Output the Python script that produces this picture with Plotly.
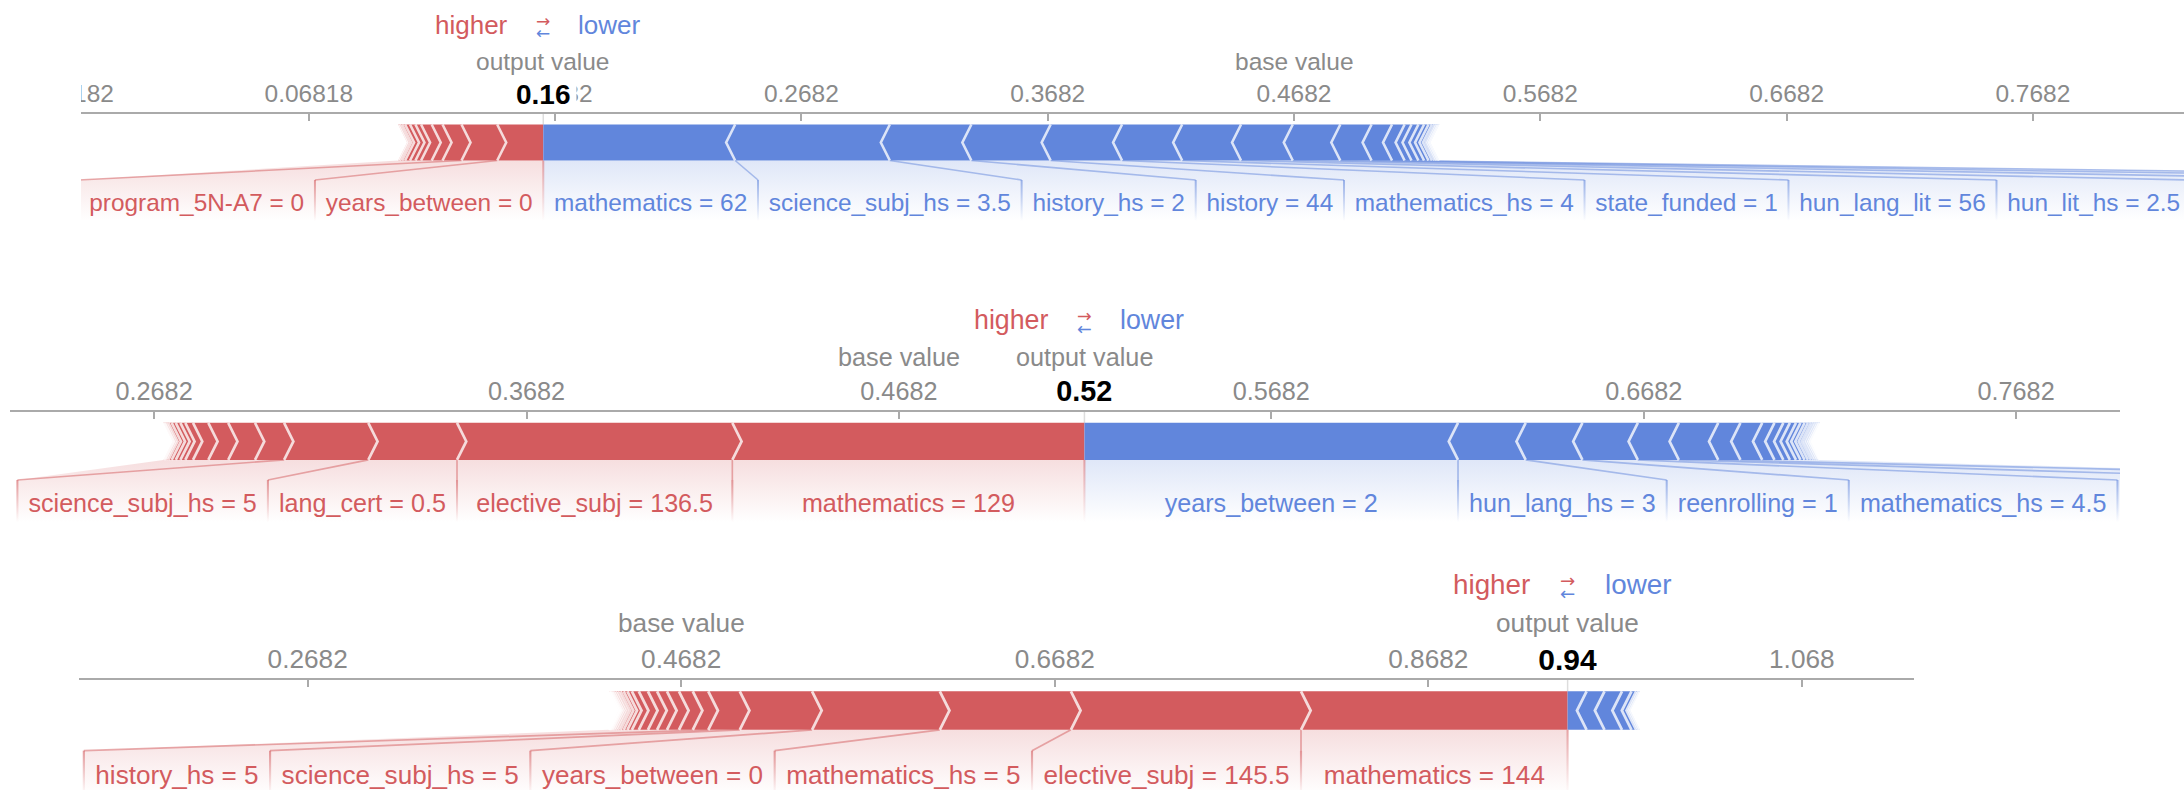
import plotly.graph_objects as go

# Expected model output (base value) shared by the three explanations
BASE_VALUE = 0.46818

# ---- explanation 1 -------------------------------------------------------
p1_pos_labels = ["years_between = 0", "program_5N-A7 = 0"]
p1_pos_effects = [0.0187, 0.0145, 0.0077, 0.0044, 0.0043, 0.0023, 0.0022, 0.0020,
                  0.0012, 0.0010, 0.0007]
p1_neg_labels = ["mathematics = 62", "science_subj_hs = 3.5", "history_hs = 2",
                 "history = 44", "mathematics_hs = 4", "state_funded = 1",
                 "hun_lang_lit = 56", "hun_lit_hs = 2.5"]
p1_neg_effects = [0.0779, 0.0628, 0.0331, 0.0322, 0.0290, 0.0244, 0.0239, 0.0210,
                  0.0193, 0.0127, 0.0083, 0.0051, 0.0028, 0.0028, 0.0023, 0.0018,
                  0.0014, 0.0011, 0.0008, 0.0006, 0.0005]

# ---- explanation 2 -------------------------------------------------------
p2_pos_labels = ["mathematics = 129", "elective_subj = 136.5", "lang_cert = 0.5",
                 "science_subj_hs = 5"]
p2_pos_effects = [0.09455, 0.07393, 0.02382, 0.02261, 0.00781, 0.00720, 0.00534,
                  0.00411, 0.00207, 0.00132, 0.00124, 0.0011, 0.0009, 0.0006,
                  0.0004, 0.0003]
p2_neg_labels = ["years_between = 2", "hun_lang_hs = 3", "reenrolling = 1",
                 "mathematics_hs = 4.5"]
p2_neg_effects = [0.10032, 0.01818, 0.01523, 0.01488, 0.01101, 0.01058, 0.00596,
                  0.00585, 0.00328, 0.00239, 0.00175, 0.00164, 0.00121, 0.0011,
                  0.0009, 0.0008, 0.0007, 0.0006, 0.0005, 0.0004, 0.0002]

# ---- explanation 3 -------------------------------------------------------
p3_pos_labels = ["mathematics = 144", "elective_subj = 145.5", "mathematics_hs = 5",
                 "years_between = 0", "science_subj_hs = 5", "history_hs = 5"]
p3_pos_effects = [0.14274, 0.1232, 0.0702, 0.0684, 0.0387, 0.01687, 0.0083, 0.0074,
                  0.0064, 0.0053, 0.0049, 0.0049, 0.0037, 0.0024, 0.0020, 0.0017,
                  0.0014, 0.0012, 0.0010, 0.0008, 0.0006, 0.0005, 0.0004, 0.0003]
p3_neg_labels = []
p3_neg_effects = [0.01017, 0.00958, 0.00937, 0.00509, 0.0025, 0.0012, 0.0008]

PANELS = [
    dict(pos=p1_pos_effects, pos_labels=p1_pos_labels, neg=p1_neg_effects,
         neg_labels=p1_neg_labels),
    dict(pos=p2_pos_effects, pos_labels=p2_pos_labels, neg=p2_neg_effects,
         neg_labels=p2_neg_labels),
    dict(pos=p3_pos_effects, pos_labels=p3_pos_labels, neg=p3_neg_effects,
         neg_labels=p3_neg_labels),
]

# ---- page layout (pixels) ------------------------------------------------
W, H = 2184, 790
LAYOUT = [
    dict(axis_y=113, top=0, bottom=240, left=0, right=2184, base_px=1294.0,
         ppu=2463.0, step=0.1, s=1.0, clip_left=81, more_pos=0, more_neg=3),
    dict(axis_y=411, top=240, bottom=545, left=10, right=2120, base_px=898.9,
         ppu=3724.0, step=0.1, s=1.03, clip_left=None, more_pos=0, more_neg=2),
    dict(axis_y=679, top=545, bottom=790, left=79, right=1914, base_px=681.2,
         ppu=1867.7, step=0.2, s=1.07, clip_left=None, more_pos=0, more_neg=0),
]

RED = "#D35B5E"
BLUE = "#6186DC"
GREY = "#8a8a8a"
AXIS_COLOR = "#aaaaaa"
FONT = "Liberation Sans, Arial, sans-serif"

ARIAL = {c: 556 for c in "abdeghnopqu0123456789_"}
ARIAL.update({"c": 500, "k": 500, "s": 500, "v": 500, "x": 500, "y": 500, "z": 500,
              "f": 278, "t": 278, "i": 222, "j": 222, "l": 222, "m": 833, "r": 333,
              "w": 722, "A": 667, "N": 722, " ": 278, ".": 278, "=": 584, "-": 333})


def text_width(txt, size, bold=False):
    return sum(ARIAL.get(ch, 556) for ch in txt) / 1000.0 * size


def rgba(hex_color, a):
    h = hex_color.lstrip("#")
    r, g, b = int(h[0:2], 16), int(h[2:4], 16), int(h[4:6], 16)
    return f"rgba({r},{g},{b},{a})"


fig = go.Figure()
annotations = []
shapes = []


def add_poly(xs, ys, xa, ya, **kw):
    fig.add_trace(go.Scatter(x=xs, y=ys, xaxis=xa, yaxis=ya, mode="lines",
                             line=dict(width=0), hoverinfo="skip", showlegend=False,
                             **kw))


for k, (data, lay) in enumerate(zip(PANELS, LAYOUT)):
    xa = "x" if k == 0 else f"x{k + 1}"
    ya = "y" if k == 0 else f"y{k + 1}"
    s, ppu = lay["s"], lay["ppu"]
    pos, neg = data["pos"], data["neg"]
    out = BASE_VALUE + sum(pos) - sum(neg)

    # vertical geometry, pixels above the axis line
    bar_top, bar_mid, bar_bot = -11.5 * s, -29.5 * s, -47.5 * s
    link_top, text_y, lab_bot = -67 * s, -92 * s, -108 * s
    chev = 9 * s / ppu
    label_fs = 24.4 * s
    pad = 21.5 * s

    # segment extents in value units
    red_segs, x1 = [], out
    for e in pos:
        red_segs.append((x1 - e, x1))
        x1 -= e
    blue_segs, x0 = [], out
    for e in neg:
        blue_segs.append((x0, x0 + e))
        x0 += e
    red_end, blue_end = x1, x0

    # ---- label boxes
    def place(segs, names, extra, sign):
        boxes, limit = [], out
        n = min(len(names) + extra, len(segs))
        for i in range(n):
            name = names[i] if i < len(names) else None
            wpx = (text_width(name, label_fs) if name else 200 * s) + pad
            w = wpx / ppu
            a, b = segs[i]
            if sign > 0:
                right = min(b, limit)
                left = min(a, right - w)
                limit = left
            else:
                left = max(a, limit)
                right = max(b, left + w)
                limit = right
            boxes.append((left, right, name))
        return boxes

    red_boxes = place(red_segs, data["pos_labels"], lay["more_pos"], 1)
    blue_boxes = place(blue_segs, data["neg_labels"], lay["more_neg"], -1)

    # ---- label backings (vertical fades)
    for boxes, segs, col, end, sign in ((red_boxes, red_segs, RED, red_end, 1),
                                        (blue_boxes, blue_segs, BLUE, blue_end, -1)):
        for i, (left, right, name) in enumerate(boxes):
            a, b = segs[i]
            last = i == len(boxes) - 1
            if sign > 0 and last:
                a = end
            if sign < 0 and last:
                b = end
            xs = [a, b, right, right, left, left, a]
            ys = [bar_bot, bar_bot, link_top, lab_bot, lab_bot, link_top, bar_bot]
            add_poly(xs, ys, xa, ya, fill="toself",
                     fillgradient=dict(type="vertical",
                                       colorscale=[[0, rgba(col, 0)], [1, rgba(col, 0.2)]]))

    # ---- label dividers and links
    half = 1.0 * s / ppu
    for boxes, segs, col, sign in ((red_boxes, red_segs, RED, 1),
                                   (blue_boxes, blue_segs, BLUE, -1)):
        lx, ly = [], []
        for i, (left, right, name) in enumerate(boxes):
            a, b = segs[i]
            edge = left if sign > 0 else right
            anchor = a if sign > 0 else b
            add_poly([edge - half, edge + half, edge + half, edge - half, edge - half],
                     [link_top, link_top, lab_bot, lab_bot, link_top], xa, ya,
                     fill="toself",
                     fillgradient=dict(type="vertical",
                                       colorscale=[[0, rgba(col, 0)], [1, rgba(col, 0.6)]]))
            lx += [anchor, edge, None]
            ly += [bar_bot, link_top, None]
        if lx:
            fig.add_trace(go.Scatter(x=lx, y=ly, xaxis=xa, yaxis=ya, mode="lines",
                                     line=dict(color=rgba(col, 0.5), width=1.6 * s),
                                     hoverinfo="skip", showlegend=False))

    # divider at the output value under the bar
    if red_boxes:
        add_poly([out - half, out + half, out + half, out - half, out - half],
                 [bar_bot, bar_bot, lab_bot, lab_bot, bar_bot], xa, ya, fill="toself",
                 fillgradient=dict(type="vertical",
                                   colorscale=[[0, rgba(RED, 0)], [1, rgba(RED, 0.5)]]))
    # join line between axis and bar
    fig.add_trace(go.Scatter(x=[out, out], y=[0, bar_top], xaxis=xa, yaxis=ya,
                             mode="lines", line=dict(color="#dddddd", width=1.5),
                             hoverinfo="skip", showlegend=False))

    # ---- force bar blocks
    for segs, col, sign in ((red_segs, RED, 1), (blue_segs, BLUE, -1)):
        xs, ys = [], []
        dx, dy = [], []
        for i, (a, b) in enumerate(segs):
            if sign > 0:
                d_end = 0 if i == 0 else chev
                xs += [a, b, b + d_end, b, a, a + chev, a, None]
                dx += [a, a + chev, a, None]
            else:
                d_start = 0 if i == 0 else chev
                xs += [a, b, b - chev, b, a, a - d_start, a, None]
                dx += [b, b - chev, b, None]
            ys += [bar_top, bar_top, bar_mid, bar_bot, bar_bot, bar_mid, bar_top, None]
            dy += [bar_top, bar_mid, bar_bot, None]
        if xs:
            add_poly(xs, ys, xa, ya, fill="toself", fillcolor=col)
            fig.add_trace(go.Scatter(x=dx, y=dy, xaxis=xa, yaxis=ya, mode="lines",
                                     line=dict(color="rgba(255,255,255,0.78)",
                                               width=2.6 * s),
                                     hoverinfo="skip", showlegend=False))

    # ---- feature labels
    for boxes, col in ((red_boxes, RED), (blue_boxes, BLUE)):
        shown = [(l + r) / 2 for l, r, n in boxes if n]
        names = [n for l, r, n in boxes if n]
        if names:
            fig.add_trace(go.Scatter(x=shown, y=[text_y] * len(names), xaxis=xa,
                                     yaxis=ya, mode="text", text=names,
                                     textposition="middle center",
                                     textfont=dict(color=col, size=label_fs, family=FONT),
                                     cliponaxis=True, hoverinfo="skip",
                                     showlegend=False))

    # ---- titles above the axis
    def note(x, y, text, **kw):
        d = dict(x=x, y=y, xref=xa, yref=ya, text=text, showarrow=False)
        d.update(kw)
        annotations.append(d)

    out_txt = f"{out:.2f}"
    out_fs = 28 * s
    note(out, 52 * s, "output value", font=dict(size=24.5 * s, color=GREY, family=FONT))
    note(BASE_VALUE, 52 * s, "base value", font=dict(size=24.5 * s, color=GREY, family=FONT))
    note(out, 19 * s, out_txt, font=dict(size=out_fs, color="#000000", family=FONT,
                                         weight="bold"),
         bgcolor="white", borderpad=0, height=30 * s,
         width=text_width(out_txt, out_fs) + 12 * s)
    note(out, 88 * s, "higher", xanchor="right", xshift=-33 * s,
         font=dict(size=26 * s, color=RED, family=FONT))
    note(out, 88 * s, "lower", xanchor="left", xshift=33 * s,
         font=dict(size=26 * s, color=BLUE, family=FONT))
    note(out, 92 * s, "\u2192", font=dict(size=17 * s, color=RED, family="DejaVu Sans"))
    note(out, 80 * s, "\u2190", font=dict(size=17 * s, color=BLUE, family="DejaVu Sans"))

    # ---- axes
    x_lo = BASE_VALUE - (lay["base_px"] - lay["left"]) / ppu
    x_hi = BASE_VALUE + (lay["right"] - lay["base_px"]) / ppu
    tickvals = [BASE_VALUE + j * lay["step"] for j in range(-8, 9)]
    tickvals = [v for v in tickvals if x_lo <= v <= x_hi]
    ticktext = [f"{v:.4g}".replace("-", "\u2212") for v in tickvals]
    axis_key = "xaxis" if k == 0 else f"xaxis{k + 1}"
    yaxis_key = "yaxis" if k == 0 else f"yaxis{k + 1}"
    fig.layout[axis_key] = dict(
        domain=[lay["left"] / W, lay["right"] / W], range=[x_lo, x_hi],
        anchor="free", position=1 - lay["axis_y"] / H, side="top",
        showline=True, linecolor=AXIS_COLOR, linewidth=2,
        ticks="inside", ticklen=7 * s, tickwidth=1.5, tickcolor=AXIS_COLOR,
        tickvals=tickvals, ticktext=ticktext, tickangle=0,
        tickfont=dict(size=24.5 * s, color=GREY, family=FONT),
        showgrid=False, zeroline=False, fixedrange=True)
    fig.layout[yaxis_key] = dict(
        domain=[1 - lay["bottom"] / H, 1 - lay["top"] / H],
        range=[-(lay["bottom"] - lay["axis_y"]), lay["axis_y"] - lay["top"]],
        visible=False, fixedrange=True)

    if lay["clip_left"]:
        shapes.append(dict(type="rect", xref="paper", yref="paper", x0=0,
                           x1=lay["clip_left"] / W, y0=1 - lay["bottom"] / H,
                           y1=1 - lay["top"] / H, fillcolor="white",
                           line=dict(width=0), layer="above"))

fig.update_layout(width=W, height=H, autosize=False,
                  margin=dict(l=0, r=0, t=0, b=0),
                  paper_bgcolor="white", plot_bgcolor="white",
                  showlegend=False, annotations=annotations, shapes=shapes)

fig.write_html("out.html")
